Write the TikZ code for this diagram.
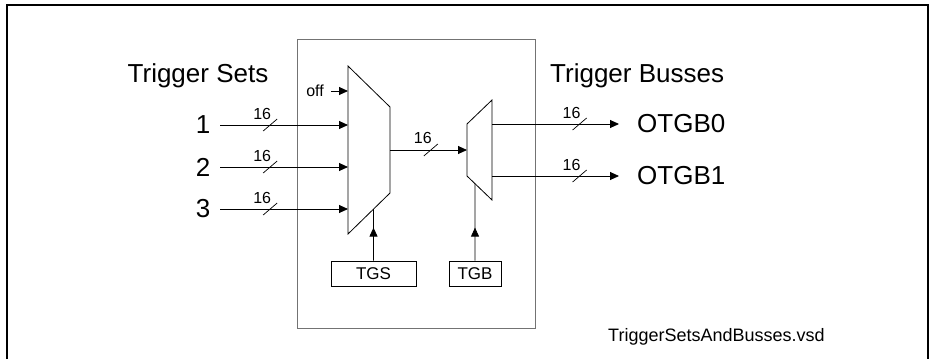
\documentclass[tikz,border=0pt]{standalone}
\usepackage{fontspec}
\setmainfont{Liberation Sans}
\usepackage{tikz}
\usetikzlibrary{arrows.meta,positioning,calc,decorations.markings}

\begin{document}
\begin{tikzpicture}[x=1pt,y=-1pt,
  every node/.style={inner sep=0pt},
  big/.style={font=\fontsize{26}{30}\selectfont},
  small/.style={font=\fontsize{16}{19}\selectfont},
  ctrl/.style={draw,line width=0.8pt,minimum height=25pt,
               font=\fontsize{17}{20}\selectfont},
  mux/.style={draw,line width=0.8pt},
  arr/.style={-{Triangle[length=9pt,width=8pt]},line width=0.9pt},
  slash/.style={line width=0.7pt},
  ctl/.style={line width=0.9pt,postaction={decorate},
              decoration={markings,mark=at position 33pt with
                {\arrow{Triangle[length=9pt,width=8pt]}}}}
]
\useasboundingbox (0,0) rectangle (929,359);

% frame
\draw[line width=1.5pt] (7,359) -- (7,5) -- (929,5);
\draw[line width=1.5pt] (928.2,5) -- (928.2,359);
\draw[line width=0.9pt,black!55] (297,39) rectangle (535,328);

% headings
\node[big,anchor=base] (hsets) at (198,82) {Trigger Sets};
\node[big,anchor=base west] (hbus) at (550,82) {Trigger Busses};
\node[font=\fontsize{18}{21}\selectfont,anchor=base west] (fname) at (608,341)
  {TriggerSetsAndBusses.vsd};

% multiplexers
\coordinate (m1tl) at (348,66);  \coordinate (m1tr) at (390,107);
\coordinate (m1br) at (390,193); \coordinate (m1bl) at (348,234);
\coordinate (m2tl) at (467,124); \coordinate (m2tr) at (492,100);
\coordinate (m2br) at (492,200); \coordinate (m2bl) at (467,176);
\draw[mux] (m1tl) -- (m1tr) -- (m1br) -- (m1bl) -- cycle;
\draw[mux] (m2tl) -- (m2tr) -- (m2br) -- (m2bl) -- cycle;
\coordinate (m1r) at ($(m1tr)!0.5!(m1br)$);
\coordinate (m2l) at ($(m2tl)!0.5!(m2bl)$);

% inputs
\node[small] (off) at (315,91) {off};
\node[big] (n1) at (203,125) {1};
\node[big] (n2) at (203,167) {2};
\node[big] (n3) at (203,209) {3};

\draw[arr] ([xshift=7]off.east) -- (m1tl |- off);
\draw[arr] ([xshift=10]n1.east) -- (m1tl |- n1) coordinate[pos=0.39] (b1);
\draw[arr] ([xshift=10]n2.east) -- (m1tl |- n2) coordinate[pos=0.39] (b2);
\draw[arr] ([xshift=10]n3.east) -- (m1tl |- n3) coordinate[pos=0.39] (b3);

% link between the multiplexers
\draw[arr] (m1r) -- (m2l) coordinate[pos=0.53] (b4);

% outputs
\node[big,anchor=west] (o0) at (637,124) {OTGB0};
\node[big,anchor=west] (o1) at (637,176) {OTGB1};
\draw[arr] (m2tr |- o0) -- ([xshift=-18]o0.west) coordinate[pos=0.69] (b5);
\draw[arr] (m2tr |- o1) -- ([xshift=-18]o1.west) coordinate[pos=0.69] (b6);

% bus width marks
\draw[slash] (b1) ++(-7,6) -- ++(14,-12);
\draw[slash] (b2) ++(-7,6) -- ++(14,-12);
\draw[slash] (b3) ++(-7,6) -- ++(14,-12);
\draw[slash] (b4) ++(-7,6) -- ++(14,-12);
\draw[slash] (b5) ++(-7,6) -- ++(14,-12);
\draw[slash] (b6) ++(-7,6) -- ++(14,-12);
\node[small] (w1) at ($(b1)+(-8,-11)$) {16};
\node[small] (w2) at ($(b2)+(-8,-11)$) {16};
\node[small] (w3) at ($(b3)+(-8,-11)$) {16};
\node[small] (w4) at ($(b4)+(-8,-12)$) {16};
\node[small] (w5) at ($(b5)+(-8,-11)$) {16};
\node[small] (w6) at ($(b6)+(-8,-11)$) {16};

% select registers
\node[ctrl,minimum width=85pt] (tgs) at (373.5,273.5) {TGS};
\node[ctrl,minimum width=52pt] (tgb) at (475,273.5) {TGB};
\coordinate (s1) at ($(m1bl)!0.607!(m1br)$);
\coordinate (s2) at ($(m2bl)!0.32!(m2br)$);
\draw[ctl] (tgs.north) -- (s1);
\draw[ctl] (tgb.north) -- (s2);
\end{tikzpicture}
\end{document}
